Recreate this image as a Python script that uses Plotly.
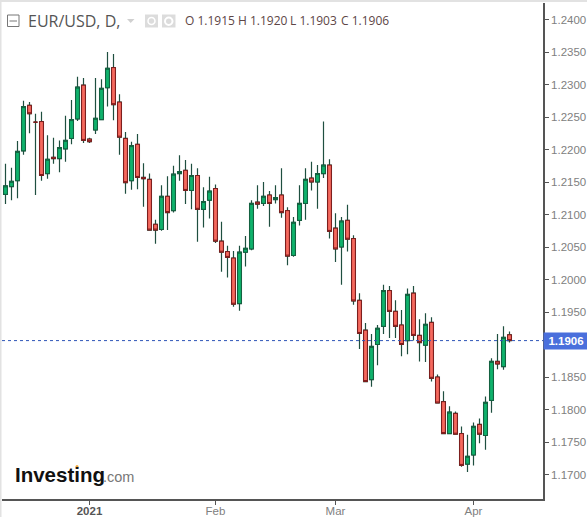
import pandas as pd
import plotly.graph_objects as go

dates = [d.strftime("%Y-%m-%d") for d in pd.bdate_range("2020-12-14", periods=85)]

opens = [1.2131,1.2143,1.2152,1.2198,1.2268,1.2242,1.2243,1.2163,1.2188,1.2186,
1.2201,1.2217,1.2247,1.2299,1.2216,1.2230,1.2246,1.2295,1.2326,1.2273,
1.2217,1.2152,1.2208,1.2157,1.2154,1.2085,1.2077,1.2128,1.2106,1.2163,
1.2168,1.2137,1.2160,1.2108,1.2122,1.2140,1.2059,1.2043,1.2033,1.1963,
1.2042,1.2047,1.2119,1.2117,1.2130,1.2123,1.2130,1.2106,1.2037,1.2091,
1.2117,1.2156,1.2150,1.2163,1.2176,1.2079,1.2050,1.2091,1.2063,1.1968,
1.1922,1.1846,1.1900,1.1928,1.1983,1.1951,1.1930,1.1906,1.1979,1.1914,
1.1899,1.1934,1.1850,1.1812,1.1763,1.1794,1.1763,1.1716,1.1730,1.1777,
1.1760,1.1814,1.1874,1.1866,1.1915]
highs = [1.2178,1.2172,1.2213,1.2275,1.2273,1.2255,1.2258,1.2222,1.2218,1.2214,
1.2252,1.2276,1.2312,1.2310,1.2218,1.2310,1.2308,1.2350,1.2347,1.2285,
1.2227,1.2212,1.2224,1.2179,1.2163,1.2092,1.2145,1.2159,1.2175,1.2191,
1.2184,1.2178,1.2171,1.2142,1.2158,1.2146,1.2089,1.2052,1.2044,1.2052,
1.2067,1.2122,1.2145,1.2150,1.2136,1.2145,1.2171,1.2111,1.2096,1.2145,
1.2171,1.2181,1.2176,1.2243,1.2185,1.2102,1.2096,1.2115,1.2068,1.1979,
1.1933,1.1916,1.1930,1.1992,1.1990,1.1968,1.1953,1.1986,1.1990,1.1939,
1.1948,1.1942,1.1854,1.1828,1.1805,1.1797,1.1774,1.1761,1.1780,1.1786,
1.1820,1.1879,1.1916,1.1928,1.1920]
lows = [1.2116,1.2122,1.2125,1.2192,1.2225,1.2130,1.2152,1.2155,1.2178,1.2165,
1.2181,1.2208,1.2244,1.2210,1.2210,1.2224,1.2245,1.2266,1.2245,1.2192,
1.2132,1.2138,1.2139,1.2112,1.2075,1.2055,1.2075,1.2076,1.2103,1.2152,
1.2116,1.2108,1.2058,1.2080,1.2094,1.2056,1.2012,1.2003,1.1958,1.1952,
1.2020,1.2045,1.2109,1.2113,1.2081,1.2117,1.2095,1.2022,1.2035,1.2083,
1.2092,1.2137,1.2109,1.2156,1.2063,1.2027,1.1992,1.2043,1.1961,1.1893,
1.1843,1.1835,1.1868,1.1916,1.1910,1.1910,1.1882,1.1885,1.1906,1.1874,
1.1873,1.1843,1.1810,1.1762,1.1762,1.1761,1.1712,1.1704,1.1714,1.1748,
1.1738,1.1795,1.1862,1.1861,1.1903]
closes = [1.2144,1.2151,1.2197,1.2266,1.2255,1.2242,1.2160,1.2185,1.2186,1.2203,
1.2214,1.2246,1.2296,1.2214,1.2212,1.2248,1.2294,1.2325,1.2269,1.2219,
1.2149,1.2206,1.2157,1.2155,1.2076,1.2076,1.2128,1.2103,1.2162,1.2166,
1.2137,1.2160,1.2108,1.2120,1.2136,1.2059,1.2042,1.2034,1.1962,1.2042,
1.2048,1.2117,1.2116,1.2128,1.2117,1.2126,1.2103,1.2036,1.2088,1.2117,
1.2154,1.2150,1.2163,1.2176,1.2074,1.2047,1.2090,1.2062,1.1967,1.1917,
1.1843,1.1897,1.1925,1.1983,1.1951,1.1928,1.1900,1.1977,1.1914,1.1903,
1.1931,1.1848,1.1810,1.1763,1.1796,1.1762,1.1714,1.1728,1.1774,1.1762,
1.1811,1.1874,1.1870,1.1911,1.1906]

y_ticks = [1.17, 1.175, 1.18, 1.185, 1.195, 1.2, 1.205, 1.21, 1.215, 1.22, 1.225, 1.23, 1.235, 1.24]
x_tick_dates = ["2021-01-01", "2021-02-01", "2021-03-01", "2021-04-01"]
x_tick_labels = ['<span style="color:#555555"><b>2021</b></span>', "Feb", "Mar", "Apr"]
last_price = 1.1906

W, H = 587, 517
L, R, T, B = 2, 543, 3, 499
px = lambda x: (x - L) / (R - L)
py = lambda y: (B - y) / (B - T)

GREEN, RED = "#0fb26c", "#f5695e"
GREEN_EDGE, RED_EDGE = "#14603f", "#7e1a1a"
WICK = "#1f4f40"

fig = go.Figure()
# wicks
fig.add_trace(go.Candlestick(
    x=dates, open=opens, high=highs, low=lows, close=closes,
    increasing=dict(line=dict(color=WICK, width=1.2), fillcolor=WICK),
    decreasing=dict(line=dict(color=WICK, width=1.2), fillcolor=WICK),
    whiskerwidth=0, showlegend=False, hoverinfo="skip",
))
# bodies, drawn over the wicks
fig.add_trace(go.Candlestick(
    x=dates, open=opens, close=closes,
    high=[max(o, c) for o, c in zip(opens, closes)],
    low=[min(o, c) for o, c in zip(opens, closes)],
    increasing=dict(line=dict(color=GREEN_EDGE, width=1), fillcolor=GREEN),
    decreasing=dict(line=dict(color=RED_EDGE, width=1), fillcolor=RED),
    whiskerwidth=0, showlegend=False,
))

shapes = [
    dict(type="line", xref="paper", yref="y", x0=0, x1=1, y0=last_price, y1=last_price,
         line=dict(color="#2f55b8", width=1, dash="dot")),
    # outer light frame
    dict(type="line", xref="paper", yref="paper", x0=px(0), x1=px(587), y0=py(1), y1=py(1),
         line=dict(color="#e2e2e2", width=2)),
    dict(type="line", xref="paper", yref="paper", x0=px(0.5), x1=px(0.5), y0=py(0), y1=py(517),
         line=dict(color="#e2e2e2", width=2)),
    # collapse button
    dict(type="rect", xref="paper", yref="paper", x0=px(7.5), x1=px(19), y0=py(15), y1=py(26.5),
         line=dict(color="#777777", width=1), fillcolor="white"),
    dict(type="line", xref="paper", yref="paper", x0=px(9.5), x1=px(17), y0=py(21), y1=py(21),
         line=dict(color="#777777", width=1)),
    # icon buttons
    dict(type="rect", xref="paper", yref="paper", x0=px(145), x1=px(158), y0=py(14.5), y1=py(27.5),
         line=dict(width=0), fillcolor="#dcdcdc"),
    dict(type="rect", xref="paper", yref="paper", x0=px(162), x1=px(175.5), y0=py(14.5), y1=py(27.5),
         line=dict(width=0), fillcolor="#dcdcdc"),
    dict(type="circle", xref="paper", yref="paper", x0=px(148), x1=px(155), y0=py(17.5), y1=py(24.5),
         line=dict(color="white", width=1.5), fillcolor="#dcdcdc"),
    dict(type="circle", xref="paper", yref="paper", x0=px(165), x1=px(172.5), y0=py(17.5), y1=py(25),
         line=dict(color="white", width=2), fillcolor="#dcdcdc"),
    # dropdown triangle
    dict(type="path", xref="paper", yref="paper",
         path=f"M {px(127)} {py(19)} L {px(134.5)} {py(19)} L {px(130.7)} {py(23)} Z",
         line=dict(width=0), fillcolor="#d0d0d0"),
    # logo dot
    dict(type="circle", xref="paper", yref="paper", x0=px(75.5), x1=px(78.5), y0=py(465), y1=py(468),
         line=dict(width=0), fillcolor="#f2a93b"),
]

def note(x, y, text, size, color, family="Open Sans", anchor="left", **kw):
    return dict(xref="paper", yref="paper", x=px(x), y=py(y), text=text, showarrow=False,
                xanchor=anchor, yanchor="middle", align="left",
                font=dict(family=family, size=size, color=color), **kw)

annotations = [
    note(26, 21, "EUR/USD, D,", 16, "#555555"),
    note(183, 21, "O 1.1915", 12, "#5d4646"),
    note(236, 21, "H 1.1920", 12, "#5d4646"),
    note(288, 21, "L 1.1903", 12, "#5d4646"),
    note(339, 21, "C 1.1906", 12, "#5d4646"),
    note(13, 474, "<b>Investing</b>", 20.5, "#111111", family="Liberation Sans"),
    note(101, 477, ".com", 14.5, "#777777", family="Liberation Sans"),
    dict(xref="paper", yref="y", x=1, y=last_price, text="<b>1.1906</b>", showarrow=False,
         xanchor="left", yanchor="middle", width=44, height=16, bgcolor="#4a6fdc",
         font=dict(family="Liberation Sans", size=11.5, color="white"), borderpad=0),
]

fig.update_layout(
    width=W, height=H,
    margin=dict(l=L, r=W - R, t=T, b=H - B, autoexpand=False),
    paper_bgcolor="white", plot_bgcolor="white",
    showlegend=False, boxmode="overlay", boxgap=0.36, boxgroupgap=0,
    shapes=shapes, annotations=annotations,
    xaxis=dict(
        type="category", categoryorder="array", categoryarray=dates,
        range=[(L - 5.5) / 6, (R - 5.5) / 6],
        tickmode="array", tickvals=x_tick_dates, ticktext=x_tick_labels,
        ticks="outside", ticklen=4, tickcolor="#555555", tickwidth=1,
        ticklabelstandoff=-4,
        showgrid=False, zeroline=False, showline=True, linecolor="#555555", linewidth=1.5,
        rangeslider=dict(visible=False),
        tickfont=dict(family="Liberation Sans", size=11.5, color="#808080"),
    ),
    yaxis=dict(
        side="right", range=[1.17 + (474.5 - B) / 6500, 1.17 + (474.5 - T) / 6500],
        tickmode="array", tickvals=y_ticks, ticktext=[f"{v:.4f}" for v in y_ticks],
        ticks="outside", ticklen=4, tickcolor="#555555", tickwidth=1,
        showgrid=False, zeroline=False, showline=True, linecolor="#555555", linewidth=1.5,
        tickfont=dict(family="Liberation Sans", size=11.5, color="#808080"),
    ),
)
assert len(opens) == len(highs) == len(lows) == len(closes) == len(dates)
fig.write_html("out.html", config=dict(displayModeBar=False),
               post_script="document.body.style.margin='0';document.body.style.overflow='hidden';")
